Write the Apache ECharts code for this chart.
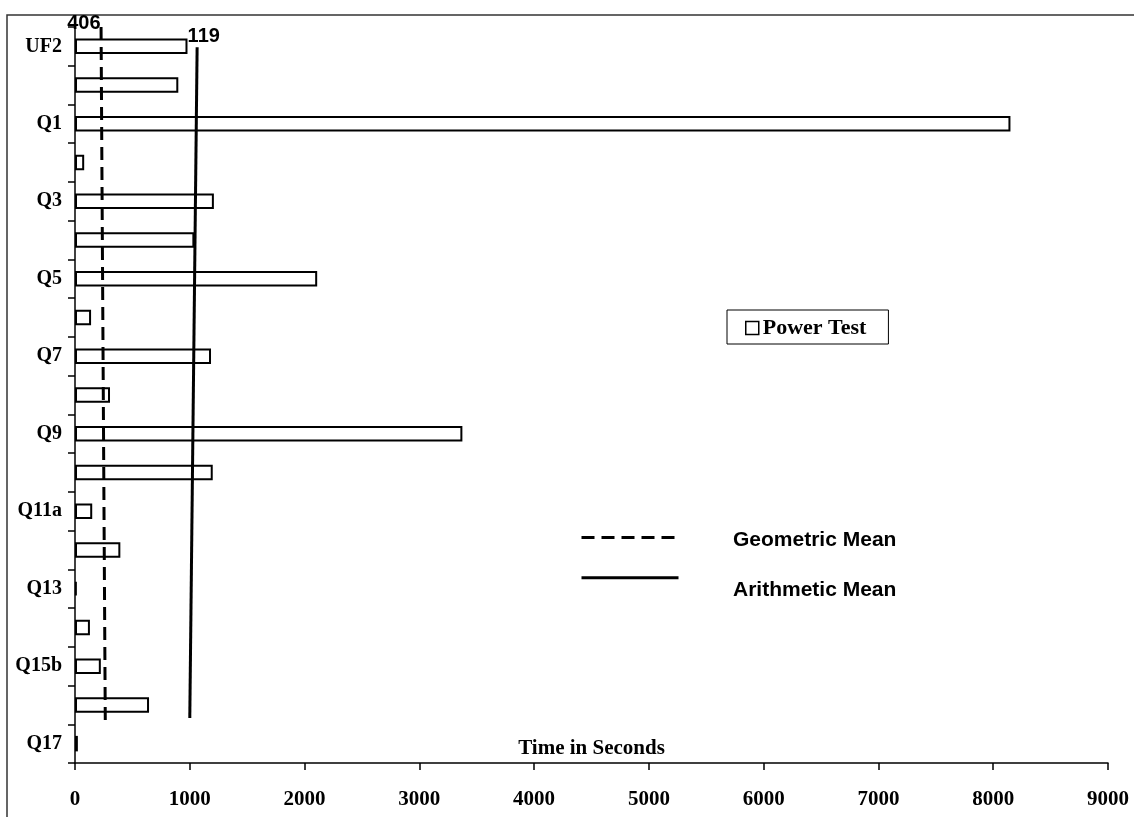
<!DOCTYPE html>
<html>
<head>
<meta charset="utf-8">
<script src="https://cdn.jsdelivr.net/npm/echarts@6/dist/echarts.min.js"></script>
<style>html,body{margin:0;padding:0;background:#fff;}#c{width:1134px;height:817px;}</style>
</head>
<body>
<div id="c"></div>
<script>
// Query categories (top to bottom); every other label is shown
var categories = ['UF2','UF1','Q1','Q2','Q3','Q4','Q5','Q6','Q7','Q8','Q9','Q10','Q11a','Q12','Q13','Q14','Q15b','Q16','Q17'];
// Power Test times in seconds
var powerTest = [980, 900, 8150, 80, 1210, 1040, 2110, 140, 1185, 305, 3375, 1200, 150, 395, 15, 130, 225, 645, 25];
// Mean lines: [seconds, position in category bands from top]
var geometricMean = [[227, 0], [264, 18]];
var arithmeticMean = [[1064, 0.52], [1000, 17.84]];
var meanLabels = ['406', '119'];
var meanNames = ['Geometric Mean', 'Arithmetic Mean'];
var xTicks = {min: 0, max: 9000, interval: 1000};

var serif = 'Liberation Serif';
var sans = 'Liberation Sans';
var chart = echarts.init(document.getElementById('c'), null, {renderer: 'canvas'});
chart.setOption({
  animation: false,
  backgroundColor: '#fff',
  grid: {left: 75, top: 27, right: 26, bottom: 54, containLabel: false, outerBoundsMode: 'none'},
  xAxis: {
    type: 'value', position: 'bottom', min: xTicks.min, max: xTicks.max, interval: xTicks.interval,
    name: 'Time in Seconds', nameLocation: 'middle', nameGap: -25, nameMoveOverlap: false,
    nameTextStyle: {color: '#000', fontFamily: serif, fontWeight: 'bold', fontSize: 21},
    axisLine: {show: true, onZero: false, lineStyle: {color: '#000', width: 1.5}},
    axisTick: {show: true, length: 7, lineStyle: {color: '#000', width: 1.5}},
    axisLabel: {margin: 26, color: '#000', fontFamily: serif, fontWeight: 'bold', fontSize: 21,
                formatter: function (v) { return String(v); }},
    splitLine: {show: false}
  },
  yAxis: [{
    type: 'category', data: categories, inverse: true,
    axisLine: {show: true, onZero: false, lineStyle: {color: '#000', width: 1.5}},
    axisTick: {show: true, length: 7, interval: 0, lineStyle: {color: '#000', width: 1.5}},
    axisLabel: {interval: 1, margin: 13, color: '#000', fontFamily: serif, fontWeight: 'bold', fontSize: 20},
    splitLine: {show: false}
  }, {
    type: 'value', min: 0, max: 19, inverse: true, show: false,
    axisLine: {show: false, onZero: false}, splitLine: {show: false}
  }],
  legend: [{
    data: ['Power Test'],
    left: 727, top: 310,
    backgroundColor: '#fff', borderColor: '#000', borderWidth: 1,
    padding: [7, 22, 5, 18],
    icon: 'rect', itemWidth: 13, itemHeight: 13,
    itemStyle: {color: '#fff', borderColor: '#000', borderWidth: 1.5},
    textStyle: {color: '#000', fontFamily: serif, fontWeight: 'bold', fontSize: 22, padding: [6, 0, 0, -1]}
  }, {
    // line samples of the mean lines
    data: meanNames,
    orient: 'vertical', left: 580, top: 532, padding: 0,
    itemWidth: 97, itemHeight: 14, itemGap: 29,
    itemStyle: {opacity: 0},
    lineStyle: {width: 3},
    formatter: function () { return ''; },
    textStyle: {fontSize: 1, lineHeight: 1}
  }, {
    // names of the mean lines
    data: meanNames.map(function (n) { return {name: n, icon: 'none'}; }),
    orient: 'vertical', left: 580, top: 529, padding: 0,
    itemWidth: 97, itemHeight: 14, itemGap: 28,
    textStyle: {color: '#000', fontFamily: sans, fontWeight: 'bold', fontSize: 21, lineHeight: 22, padding: [0, 0, 0, 51]}
  }],
  series: [{
    name: 'Power Test', type: 'bar', data: powerTest, barWidth: '40%',
    itemStyle: {color: '#fff', borderColor: '#000', borderWidth: 2},
    z: 2
  }, {
    name: meanNames[0], type: 'line', yAxisIndex: 1, clip: false,
    symbol: 'none',
    lineStyle: {color: '#000', width: 3, type: [13, 7]},
    itemStyle: {color: '#000'},
    data: geometricMean,
    markPoint: {
      symbol: 'circle', symbolSize: 1, itemStyle: {color: 'rgba(0,0,0,0)'},
      data: [{coord: geometricMean[0], value: meanLabels[0]}],
      label: {show: true, formatter: meanLabels[0], position: [0, 7], align: 'right', verticalAlign: 'bottom',
              color: '#000', fontFamily: sans, fontWeight: 'bold', fontSize: 20}
    },
    z: 3
  }, {
    name: meanNames[1], type: 'line', yAxisIndex: 1, clip: false,
    symbol: 'none',
    lineStyle: {color: '#000', width: 3, type: 'solid'},
    itemStyle: {color: '#000'},
    data: arithmeticMean,
    markPoint: {
      symbol: 'circle', symbolSize: 1, itemStyle: {color: 'rgba(0,0,0,0)'},
      data: [{coord: arithmeticMean[0], value: meanLabels[1]}],
      label: {show: true, formatter: meanLabels[1], position: [-9, -20], align: 'left', verticalAlign: 'top',
              color: '#000', fontFamily: sans, fontWeight: 'bold', fontSize: 20}
    },
    z: 3
  }],
  graphic: [{
    type: 'rect', silent: true, z: -1,
    shape: {x: 7, y: 15, width: 1200, height: 900},
    style: {fill: 'none', stroke: '#333', lineWidth: 1.5}
  }]
});
</script>
</body>
</html>
